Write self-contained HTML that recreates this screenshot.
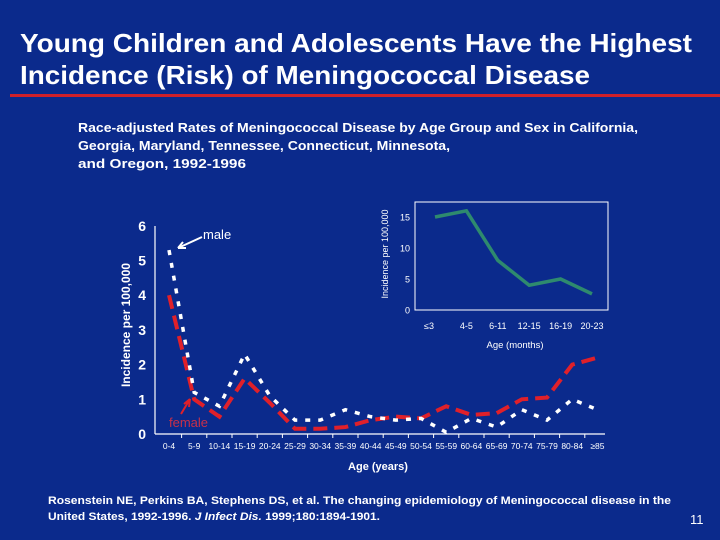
<!DOCTYPE html>
<html><head><meta charset="utf-8"><style>
body{margin:0;width:720px;height:540px;overflow:hidden;background:#0b2a8c;font-family:"Liberation Sans",sans-serif;color:#fff}
</style></head><body>
<svg width="720" height="540" xmlns="http://www.w3.org/2000/svg" style="position:absolute;left:0;top:0">
<rect width="720" height="540" fill="#0b2a8c"/>
<g font-weight="bold" font-size="26" fill="#fff">
<text x="20" y="52" textLength="672" lengthAdjust="spacingAndGlyphs">Young Children and Adolescents Have the Highest</text>
<text x="20" y="84" textLength="570" lengthAdjust="spacingAndGlyphs">Incidence (Risk) of Meningococcal Disease</text>
</g>
<rect x="10" y="94" width="710" height="3" fill="#d0202a"/>
<g font-weight="bold" font-size="12.5" fill="#fff">
<text x="78" y="132" textLength="560" lengthAdjust="spacingAndGlyphs">Race-adjusted Rates of Meningococcal Disease by Age Group and Sex in California,</text>
<text x="78" y="150" textLength="372" lengthAdjust="spacingAndGlyphs">Georgia, Maryland, Tennessee, Connecticut, Minnesota,</text>
<text x="78" y="168" textLength="168" lengthAdjust="spacingAndGlyphs">and Oregon, 1992-1996</text>
</g>
<g id="main"></g>
<g id="inset"></g>
<g font-weight="bold" font-size="11" fill="#fff">
<text x="48" y="504" textLength="623" lengthAdjust="spacingAndGlyphs">Rosenstein NE, Perkins BA, Stephens DS, et al.  The changing epidemiology of Meningococcal disease in the</text>
<text x="48" y="520" textLength="332" lengthAdjust="spacingAndGlyphs">United States, 1992-1996. <tspan font-style="italic">J Infect Dis.</tspan> 1999;180:1894-1901.</text>
</g>
<text x="690" y="524" font-size="13" fill="#fff">11</text>
</svg>
<script>
const categories=["0-4","5-9","10-14","15-19","20-24","25-29","30-34","35-39","40-44","45-49","50-54","55-59","60-64","65-69","70-74","75-79","80-84","≥85"];
const maleValues=[5.3,1.2,0.8,2.3,1.1,0.4,0.4,0.7,0.5,0.4,0.45,0.05,0.45,0.2,0.7,0.4,1.0,0.7];
const femaleValues=[4.0,1.0,0.5,1.6,0.9,0.15,0.15,0.2,0.4,0.5,0.45,0.8,0.55,0.6,1.0,1.05,2.0,2.2];
const yTicks=[0,1,2,3,4,5,6];
const insetCategories=["≤3","4-5","6-11","12-15","16-19","20-23"];
const insetValues=[15,16,8,4,5,2.6];
const insetTicks=[0,5,10,15];
const NS="http://www.w3.org/2000/svg";
function mk(p,t,a,txt){const e=document.createElementNS(NS,t);for(const k in a)e.setAttribute(k,a[k]);if(txt!==undefined)e.textContent=txt;p.appendChild(e);return e;}
const main=document.getElementById('main');
const xM=i=>169+i*25.2, yM=v=>434-v*34.7;
let ax=mk(main,'path',{d:'M155 434H605M155 226V434',stroke:'#fff','stroke-width':1.2,fill:'none'});


yTicks.forEach(v=>{const t=mk(main,'text',{x:146,y:yM(v)+5,'font-size':14,'font-weight':'bold',fill:'#fff','text-anchor':'end'},String(v));

});
categories.forEach((c,i)=>{const t=mk(main,'text',{x:xM(i),y:449,'font-size':8.5,fill:'#fff','text-anchor':'middle'},c);


if(i>0){const k=mk(main,'line',{x1:xM(i)-12.6,x2:xM(i)-12.6,y1:434,y2:438,stroke:'#fff'});

}});
let yt=mk(main,'text',{x:0,y:0,'font-size':12,'font-weight':'bold',fill:'#fff','text-anchor':'middle',transform:'translate(130 325) rotate(-90)'},'Incidence per 100,000');


let xt=mk(main,'text',{x:378,y:470,'font-size':11,'font-weight':'bold',fill:'#fff','text-anchor':'middle'},'Age (years)');


const pts=a=>a.map((v,i)=>xM(i)+','+yM(v)).join(' ');
let fl=mk(main,'polyline',{points:pts(femaleValues),fill:'none',stroke:'#e0202a','stroke-width':4,'stroke-dasharray':'14 7'});


let ml=mk(main,'polyline',{points:pts(maleValues),fill:'none',stroke:'#fff','stroke-width':3.5,'stroke-dasharray':'5 8'});


let mlab=mk(main,'text',{x:203,y:239,'font-size':13,fill:'#fff'},'male');


let ma=mk(main,'path',{d:'M202 237L178 248M178 248l8 0M178 248l5-6',stroke:'#fff','stroke-width':2,fill:'none'});


let flab=mk(main,'text',{x:169,y:427,'font-size':13,fill:'#c8304a'},'female');


let fa=mk(main,'path',{d:'M181 414L190 399M190 399l-1 8M190 399l-6 5',stroke:'#e0202a','stroke-width':2,fill:'none'});


const ins=document.getElementById('inset');
const xI=i=>435+i*31.4, yI=v=>310-v*6.2;
let box=mk(ins,'rect',{x:415,y:202,width:193,height:108,fill:'none',stroke:'#fff','stroke-width':1});


insetTicks.forEach(v=>{const t=mk(ins,'text',{x:410,y:yI(v)+3.5,'font-size':9,fill:'#fff','text-anchor':'end'},String(v));

});
insetCategories.forEach((c,i)=>{const t=mk(ins,'text',{x:xI(i)+(i==0?-6:0),y:329,'font-size':9,fill:'#fff','text-anchor':'middle'},c);

});
let it=mk(ins,'text',{x:0,y:0,'font-size':9,fill:'#fff','text-anchor':'middle',transform:'translate(388 254) rotate(-90)'},'Incidence per 100,000');


let ix=mk(ins,'text',{x:515,y:348,'font-size':9.5,fill:'#fff','text-anchor':'middle'},'Age (months)');


let il=mk(ins,'polyline',{points:insetValues.map((v,i)=>xI(i)+','+yI(v)).join(' '),fill:'none',stroke:'#2e8a6e','stroke-width':3.5});


</script>
</body></html>
